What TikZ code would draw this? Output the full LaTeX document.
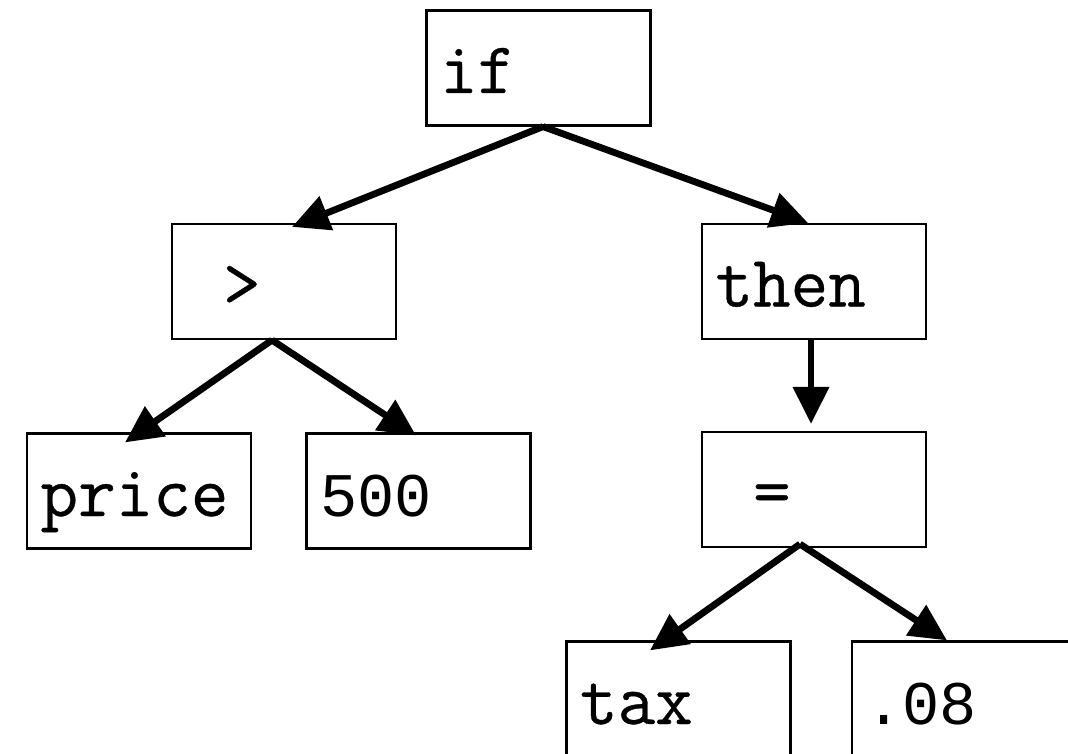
\documentclass[tikz,border=0pt]{standalone}
\usepackage{fontspec}
\newfontfamily\codefont[FakeBold=0.5]{Latin Modern Mono}
\newfontfamily\digitfont{Liberation Mono}
\usetikzlibrary{arrows.meta}

\tikzset{
    box/.style={draw, rectangle, line width=2.2pt, minimum width=224pt, minimum height=115pt,
        text width=197pt, inner xsep=13.5pt, inner ysep=0pt, align=left,
        text height=60pt, text depth=10pt, font=\fontsize{73}{78}\selectfont\codefont},
    tree/.style={line width=6.8pt, -{Triangle[length=37pt,width=35pt]}}
}

\begin{document}
\begin{tikzpicture}[x=1pt,y=-1pt]
        \useasboundingbox (0,0) rectangle (1068,754);

        \node[box] (ifst) at (538.5, 68) {if};

        \node[box] (gt) at (284, 281.5) {\hphantom{0}>};
        \node[box] (thenst) at (814, 281.5) {then};

        \node[box] (price) at (139, 491) {price};
        \node[box] (lim) at (418.5, 491) {\fontsize{62}{72}\digitfont 500};
        \node[box] (assign) at (814, 489.5) {\hphantom{0}=};

        \node[box] (tax) at (678.5, 699) {tax};
        \node[box] (rate) at (964, 699) {\fontsize{62}{72}\digitfont .08};

        \draw[tree] ([xshift=4.5pt]ifst.south) -- ([xshift=8pt,yshift=-4pt]gt.north);
        \draw[tree] ([xshift=4.5pt]ifst.south) -- ([xshift=-6pt]thenst.north);
        \draw[tree] ([xshift=-12pt]gt.south) -- ([xshift=-14pt,yshift=-10pt]price.north);
        \draw[tree] ([xshift=-12pt]gt.south) -- ([xshift=-2.5pt,yshift=-3pt]lim.north);
        \draw[tree] ([xshift=-3pt]thenst.south) -- ([xshift=-3pt,yshift=7pt]assign.north);
        \draw[tree] ([xshift=-14pt,yshift=4pt]assign.south) -- ([xshift=-28.5pt,yshift=-10pt]tax.north);
        \draw[tree] ([xshift=-14pt,yshift=4pt]assign.south) -- ([xshift=-17pt]rate.north);

    \end{tikzpicture}
\end{document}
